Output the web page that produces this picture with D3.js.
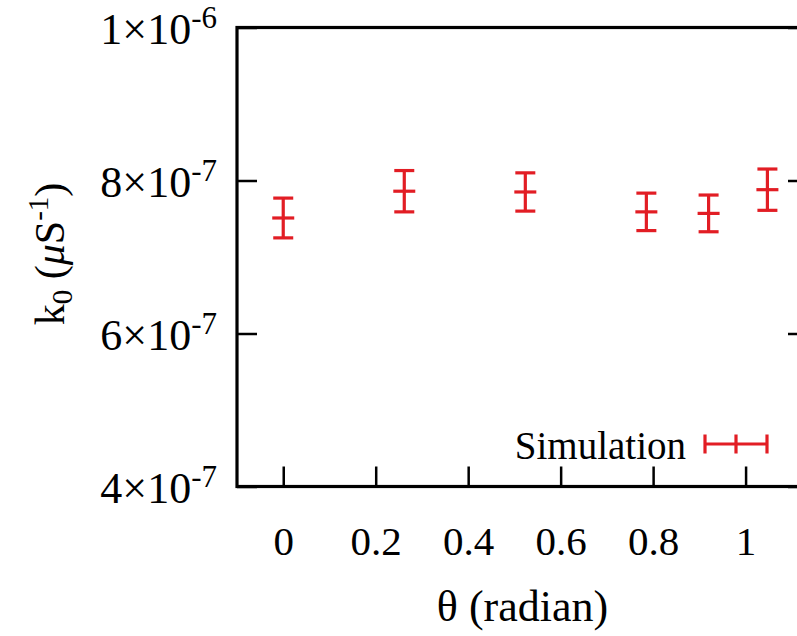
<!DOCTYPE html>
<html>
<head>
<meta charset="utf-8">
<script src="https://cdn.jsdelivr.net/npm/d3@7"></script>
<style>
  body { margin: 0; background: #fff; }
  svg text { font-family: "Liberation Serif", "Times New Roman", serif; fill: #000; }
</style>
</head>
<body>
<div id="chart"></div>
<script>
// angle (radian) and fitted k0 with its error
const theta = [0, 0.2618, 0.5236, 0.7854, 0.92, 1.0472];
const k0 = [7.51e-7, 7.86e-7, 7.85e-7, 7.59e-7, 7.57e-7, 7.88e-7];
const k0Err = [0.26e-7, 0.27e-7, 0.25e-7, 0.245e-7, 0.24e-7, 0.27e-7];

const xTicks = [0, 0.2, 0.4, 0.6, 0.8, 1];
const yTicks = [4e-7, 6e-7, 8e-7, 1e-6];
const seriesName = "Simulation";
const red = "#e21d24";

const W = 797, H = 636;
const margin = { top: 27.5, right: -11, bottom: 149.5, left: 237 };
const w = W - margin.left - margin.right;
const h = H - margin.top - margin.bottom;

const svg = d3.select("#chart").append("svg")
    .attr("width", W)
    .attr("height", H);

const g = svg.append("g")
    .attr("transform", `translate(${margin.left},${margin.top})`);

const x = d3.scaleLinear().domain([-0.1, 1.135]).range([0, w]);
const y = d3.scaleLinear().domain([4e-7, 1e-6]).range([h, 0]);

// x axis, ticks pointing inward
const xAxis = g.append("g")
    .attr("transform", `translate(0,${h})`)
    .call(d3.axisBottom(x).tickValues(xTicks).tickSizeInner(-20).tickSizeOuter(0)
        .tickFormat(d => d3.format("")(d)));
xAxis.select(".domain").remove();
xAxis.selectAll("line").attr("stroke", "#000").attr("stroke-width", 2.5);
xAxis.selectAll("text").attr("y", 68).attr("dy", null)
    .style("font-size", "41px");

// y axis with scientific labels
function sciLabel(sel) {
    sel.each(function (d) {
        const exp = Math.floor(Math.log10(d) + 1e-9);
        const mant = Math.round(d / Math.pow(10, exp));
        const t = d3.select(this).text(null);
        t.append("tspan").text(`${mant}×10`);
        t.append("tspan").attr("dy", -16).style("font-size", "31px").text(exp);
    });
}
const yAxis = g.append("g")
    .call(d3.axisLeft(y).tickValues(yTicks).tickSizeInner(-20).tickSizeOuter(0).tickFormat(""));
yAxis.select(".domain").remove();
yAxis.selectAll("line").attr("stroke", "#000").attr("stroke-width", 2.5);
yAxis.selectAll(".tick").append("text")
    .attr("x", -20).attr("y", 16)
    .attr("text-anchor", "end")
    .style("font-size", "44px")
    .call(sciLabel);

// mirrored ticks on the right
const yRight = g.append("g")
    .attr("transform", `translate(${w},0)`)
    .call(d3.axisRight(y).tickValues(yTicks).tickSizeInner(-20).tickSizeOuter(0).tickFormat(""));
yRight.select(".domain").remove();
yRight.selectAll("line").attr("stroke", "#000").attr("stroke-width", 2.5);

// frame
g.append("rect")
    .attr("width", w).attr("height", h)
    .attr("fill", "none").attr("stroke", "#000").attr("stroke-width", 3.2);

// error bars
const pts = theta.map((t, i) => ({ t, k: k0[i], e: k0Err[i] }));
const bars = g.append("g").attr("stroke", red).attr("stroke-width", 3.2).attr("fill", "none");
const bar = bars.selectAll("g").data(pts).join("g");
bar.append("line")
    .attr("x1", d => x(d.t)).attr("x2", d => x(d.t))
    .attr("y1", d => y(d.k - d.e)).attr("y2", d => y(d.k + d.e));
bar.append("line")
    .attr("x1", d => x(d.t) - 10).attr("x2", d => x(d.t) + 10)
    .attr("y1", d => y(d.k + d.e)).attr("y2", d => y(d.k + d.e));
bar.append("line")
    .attr("x1", d => x(d.t) - 10).attr("x2", d => x(d.t) + 10)
    .attr("y1", d => y(d.k - d.e)).attr("y2", d => y(d.k - d.e));
bar.append("line")
    .attr("x1", d => x(d.t) - 11).attr("x2", d => x(d.t) + 11)
    .attr("y1", d => y(d.k)).attr("y2", d => y(d.k));

// legend
const leg = g.append("g").attr("transform", `translate(${705 - margin.left},${444 - margin.top})`);
leg.append("text")
    .attr("x", -19).attr("y", 15)
    .attr("text-anchor", "end")
    .style("font-size", "39px")
    .text(seriesName);
const lg = leg.append("g").attr("stroke", red).attr("stroke-width", 3.2);
lg.append("line").attr("x1", 0).attr("x2", 62).attr("y1", 0).attr("y2", 0);
[0, 31, 62].forEach(px => lg.append("line").attr("x1", px).attr("x2", px).attr("y1", -9.5).attr("y2", 9.5));

// axis titles
const yTitle = svg.append("text")
    .attr("transform", `translate(64,254) rotate(-90)`)
    .attr("text-anchor", "middle")
    .style("font-size", "42px");
yTitle.append("tspan").text("k");
yTitle.append("tspan").attr("dy", 8).style("font-size", "29px").text("0");
yTitle.append("tspan").attr("dy", -8).text(" (");
yTitle.append("tspan").style("font-style", "italic").text("μ");
yTitle.append("tspan").text("S");
yTitle.append("tspan").attr("dy", -16).style("font-size", "29px").text("-1");
yTitle.append("tspan").attr("dy", 16).text(")");

svg.append("text")
    .attr("x", margin.left + w / 2).attr("y", 621)
    .attr("text-anchor", "middle")
    .style("font-size", "44px")
    .text("θ (radian)");
</script>
</body>
</html>
